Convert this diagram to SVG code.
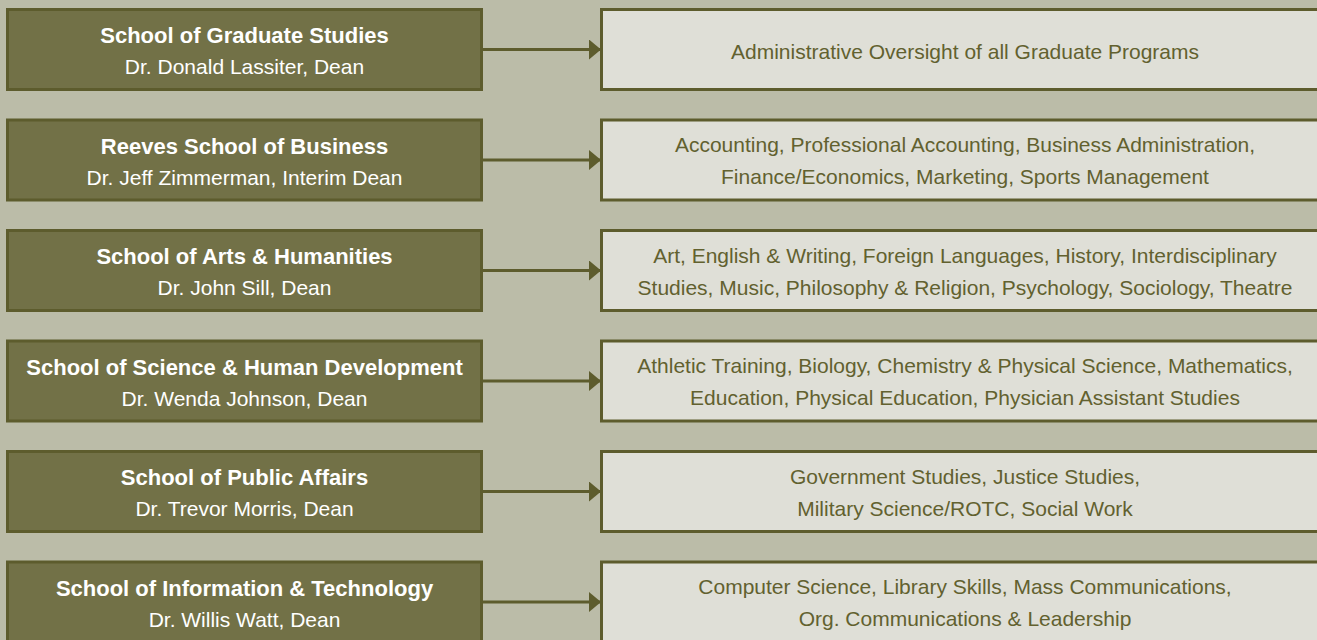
<svg xmlns="http://www.w3.org/2000/svg" width="1317" height="640" viewBox="0 0 1317 640">
<defs>
<style>
.bg{fill:#bbbca8}
.l{fill:#727147;stroke:#5d5c2d;stroke-width:3}
.r{fill:#dfdfd7;stroke:#5d5c2d;stroke-width:3}
.t{font-family:"Liberation Sans",Arial,sans-serif;font-size:21px;text-anchor:middle}
.h{fill:#ffffff;font-weight:bold;font-size:22px}
.s{fill:#ffffff}
.d{fill:#62612f}
.c{stroke:#5d5c2d;stroke-width:3;fill:none}
</style>
<marker id="ah" viewBox="0 0 12 20" refX="12" refY="10" markerWidth="12" markerHeight="20" markerUnits="userSpaceOnUse" orient="auto"><path d="M0,0L12,10L0,20Z" fill="#5d5c2d"/></marker>
</defs>
<rect class="bg" x="0" y="0" width="1317" height="640"/>
<g id="connectors">
<line class="c" x1="482" y1="49.5" x2="601" y2="49.5" marker-end="url(#ah)"/>
<line class="c" x1="482" y1="160" x2="601" y2="160" marker-end="url(#ah)"/>
<line class="c" x1="482" y1="270.5" x2="601" y2="270.5" marker-end="url(#ah)"/>
<line class="c" x1="482" y1="381" x2="601" y2="381" marker-end="url(#ah)"/>
<line class="c" x1="482" y1="491.5" x2="601" y2="491.5" marker-end="url(#ah)"/>
<line class="c" x1="482" y1="602" x2="601" y2="602" marker-end="url(#ah)"/>
</g>
<g id="n1"><rect class="l" x="7.5" y="9.5" width="474" height="80"/><text class="t h" x="244.5" y="43">School of Graduate Studies</text><text class="t s" x="244.5" y="74">Dr. Donald Lassiter, Dean</text></g>
<g id="p1"><rect class="r" x="601.5" y="9.5" width="730" height="80"/><text class="t d" x="965" y="59">Administrative Oversight of all Graduate Programs</text></g>
<g id="n2"><rect class="l" x="7.5" y="120" width="474" height="80"/><text class="t h" x="244.5" y="153.5">Reeves School of Business</text><text class="t s" x="244.5" y="184.5">Dr. Jeff Zimmerman, Interim Dean</text></g>
<g id="p2"><rect class="r" x="601.5" y="120" width="730" height="80"/><text class="t d" x="965" y="152">Accounting, Professional Accounting, Business Administration,</text><text class="t d" x="965" y="184">Finance/Economics, Marketing, Sports Management</text></g>
<g id="n3"><rect class="l" x="7.5" y="230.5" width="474" height="80"/><text class="t h" x="244.5" y="264">School of Arts &amp; Humanities</text><text class="t s" x="244.5" y="295">Dr. John Sill, Dean</text></g>
<g id="p3"><rect class="r" x="601.5" y="230.5" width="730" height="80"/><text class="t d" x="965" y="262.5">Art, English &amp; Writing, Foreign Languages, History, Interdisciplinary</text><text class="t d" x="965" y="294.5">Studies, Music, Philosophy &amp; Religion, Psychology, Sociology, Theatre</text></g>
<g id="n4"><rect class="l" x="7.5" y="341" width="474" height="80"/><text class="t h" x="244.5" y="374.5">School of Science &amp; Human Development</text><text class="t s" x="244.5" y="405.5">Dr. Wenda Johnson, Dean</text></g>
<g id="p4"><rect class="r" x="601.5" y="341" width="730" height="80"/><text class="t d" x="965" y="373">Athletic Training, Biology, Chemistry &amp; Physical Science, Mathematics,</text><text class="t d" x="965" y="405">Education, Physical Education, Physician Assistant Studies</text></g>
<g id="n5"><rect class="l" x="7.5" y="451.5" width="474" height="80"/><text class="t h" x="244.5" y="485">School of Public Affairs</text><text class="t s" x="244.5" y="516">Dr. Trevor Morris, Dean</text></g>
<g id="p5"><rect class="r" x="601.5" y="451.5" width="730" height="80"/><text class="t d" x="965" y="483.5">Government Studies, Justice Studies,</text><text class="t d" x="965" y="515.5">Military Science/ROTC, Social Work</text></g>
<g id="n6"><rect class="l" x="7.5" y="562" width="474" height="80"/><text class="t h" x="244.5" y="595.5">School of Information &amp; Technology</text><text class="t s" x="244.5" y="626.5">Dr. Willis Watt, Dean</text></g>
<g id="p6"><rect class="r" x="601.5" y="562" width="730" height="80"/><text class="t d" x="965" y="594">Computer Science, Library Skills, Mass Communications,</text><text class="t d" x="965" y="626">Org. Communications &amp; Leadership</text></g>
</svg>
